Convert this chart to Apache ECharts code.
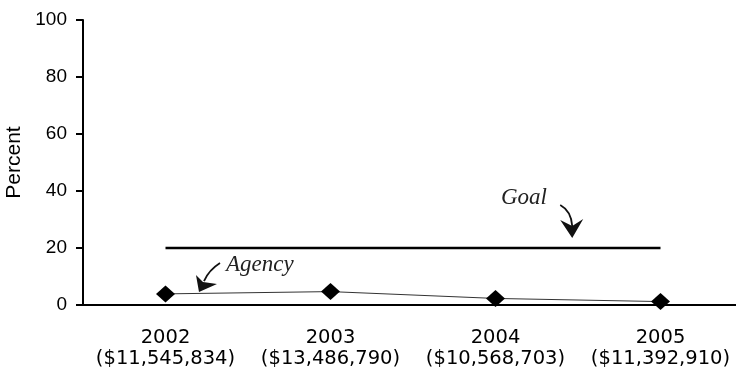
<!DOCTYPE html>
<html>
<head>
<meta charset="utf-8">
<script src="https://cdn.jsdelivr.net/npm/echarts@6/dist/echarts.min.js"></script>
<style>
html,body{margin:0;padding:0;background:#fff;}
#c{width:736px;height:372px;}
</style>
</head>
<body>
<div id="c"></div>
<script>
const years = ['2002', '2003', '2004', '2005'];
const budgets = ['($11,545,834)', '($13,486,790)', '($10,568,703)', '($11,392,910)'];
const agencyPct = [3.9, 4.7, 2.3, 1.2];
const goalPct = [20, 20, 20, 20];
const yTicks = [0, 20, 40, 60, 80, 100];
// annotation anchors in data units: [category position, percent]
const goalLabelAt = [2.033, 37.5];
const goalArrowTipAt = [2.465, 23.5];
const agencyLabelAt = [0.367, 14.0];
const agencyArrowTipAt = [0.203, 4.56];

const chart = echarts.init(document.getElementById('c'), null, {renderer: 'canvas'});
chart.setOption({
  animation: false,
  backgroundColor: '#fff',
  grid: {left: 83, right: -7, top: 20, bottom: 67, containLabel: false, outerBoundsMode: 'none'},
  xAxis: {
    type: 'category',
    data: years,
    boundaryGap: true,
    axisLine: {lineStyle: {color: '#000', width: 2}},
    axisTick: {alignWithLabel: true, interval: 0, length: 8, lineStyle: {color: '#000', width: 2}},
    axisLabel: {
      interval: 0, hideOverlap: false,
      color: '#000', fontFamily: 'DejaVu Sans', fontSize: 19.5, lineHeight: 21, margin: 22,
      formatter: (v, i) => v + '\n' + budgets[i]
    },
    splitLine: {show: false}
  },
  yAxis: {
    type: 'value',
    min: yTicks[0], max: yTicks[yTicks.length - 1], interval: 20,
    name: 'Percent', nameLocation: 'middle', nameRotate: 90, nameGap: 55,
    nameTextStyle: {color: '#000', fontFamily: 'Liberation Sans', fontSize: 21},
    axisLine: {show: true, lineStyle: {color: '#000', width: 2}},
    axisTick: {show: true, length: 7, lineStyle: {color: '#000', width: 2}},
    axisLabel: {color: '#000', fontFamily: 'Liberation Sans', fontSize: 19, margin: 16},
    splitLine: {show: false}
  },
  series: [
    {
      name: 'Goal', type: 'line', data: goalPct, symbol: 'none',
      lineStyle: {color: '#000', width: 2.5}, z: 2
    },
    {
      name: 'Agency', type: 'line', data: agencyPct, symbol: 'diamond', symbolSize: [19, 17],
      itemStyle: {color: '#000'}, lineStyle: {color: '#333', width: 1}, z: 3
    }
  ]
});

function toPx(p) {
  const a = chart.convertToPixel({gridIndex: 0}, [0, 0]);
  const b = chart.convertToPixel({gridIndex: 0}, [1, 100]);
  return [a[0] + (b[0] - a[0]) * p[0], a[1] + (b[1] - a[1]) * p[1] / 100];
}

function arrow(tip, curve, head) {
  const els = [];
  els.push({
    type: 'bezierCurve',
    shape: {
      x1: tip[0] + curve[0][0], y1: tip[1] + curve[0][1],
      cpx1: tip[0] + curve[1][0], cpy1: tip[1] + curve[1][1],
      x2: tip[0] + curve[2][0], y2: tip[1] + curve[2][1]
    },
    style: {stroke: '#111', lineWidth: 1.8, fill: null},
    silent: true
  });
  els.push({
    type: 'polygon',
    shape: {points: head.map(h => [tip[0] + h[0], tip[1] + h[1]])},
    style: {fill: '#111', stroke: null},
    silent: true
  });
  return els;
}

const gl = toPx(goalLabelAt), gt = toPx(goalArrowTipAt);
const al = toPx(agencyLabelAt), at = toPx(agencyArrowTipAt);
const textStyle = {fill: '#222', fontFamily: 'Liberation Serif', fontStyle: 'italic', fontSize: 23, align: 'left', verticalAlign: 'middle'};

chart.setOption({
  graphic: [
    {type: 'text', x: gl[0], y: gl[1], style: Object.assign({text: 'Goal'}, textStyle), silent: true},
    {type: 'text', x: al[0], y: al[1], style: Object.assign({text: 'Agency'}, textStyle), silent: true}
  ].concat(
    arrow(gt, [[-12, -33], [-1, -27], [0, -12]], [[-12, -18], [0, -12], [11, -19], [0, 0]]),
    arrow(at, [[21, -29], [10, -22], [5, -11]], [[-3, -17], [4, -10], [18, -8], [0, 0]])
  )
});
</script>
</body>
</html>
